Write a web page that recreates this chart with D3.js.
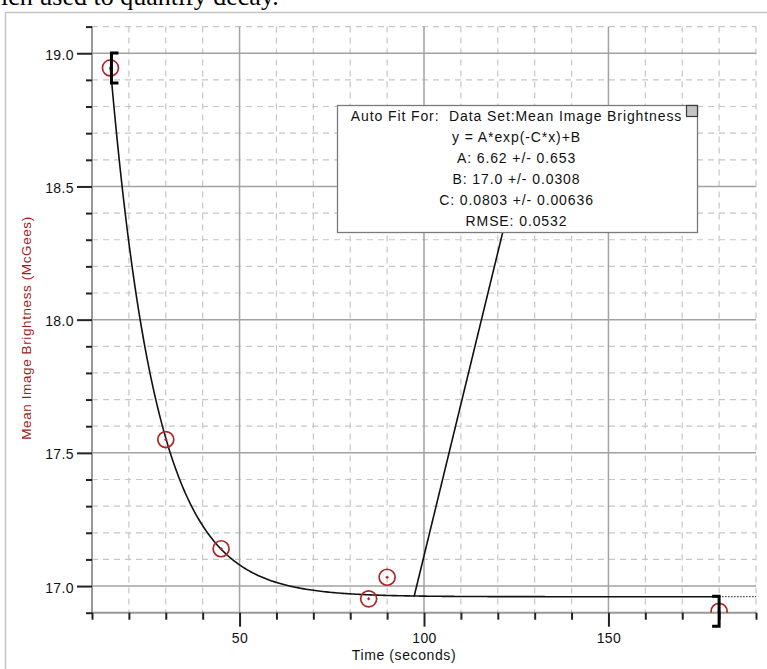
<!DOCTYPE html>
<html>
<head>
<meta charset="utf-8">
<script src="https://cdn.jsdelivr.net/npm/d3@7"></script>
<style>
body { margin: 0; background: #fff; }
svg { display: block; font-family: "Liberation Sans", Arial, sans-serif; }
</style>
</head>
<body>
<div id="chart"></div>
<script>
// measured points (time in s, brightness in McGees)
var TIMES = [15, 30, 45, 85, 90, 180];
var BRIGHTNESS = [18.945, 17.55, 17.14, 16.952, 17.033, 16.905];

// fit parameters, B is shown rounded to 17.0 in the box
var FIT_A = 6.62;
var FIT_B = 16.96;
var FIT_C = 0.0803;
var FIT_RANGE = [15, 180];

// stray segment that runs up from the curve and disappears under the box
var SPIKE_X = [97.3, 127];
var SPIKE_Y = [16.96, 18.65];

var FIT_TEXT = [
  "Auto Fit For:  Data Set:Mean Image Brightness",
  "y = A*exp(-C*x)+B",
  "A: 6.62 +/- 0.653",
  "B: 17.0 +/- 0.0308",
  "C: 0.0803 +/- 0.00636",
  "RMSE: 0.0532"
];

var X_DOMAIN = [10, 190];
var Y_DOMAIN = [16.9, 19.1];
var X_LABELS = [50, 100, 150];
var Y_LABELS = [17.0, 17.5, 18.0, 18.5, 19.0];
var X_MINOR = [10, 20, 30, 40, 60, 70, 80, 90, 110, 120, 130, 140, 160, 170, 180, 190];
var Y_MINOR = [16.9, 17.1, 17.2, 17.3, 17.4, 17.6, 17.7, 17.8, 17.9, 18.1, 18.2, 18.3, 18.4, 18.6, 18.7, 18.8, 18.9, 19.1];

var W = 767, H = 669;
var LEFT = 92, RIGHT = 756, TOP = 26.6, BOTTOM = 612.7;
var RED = "#b02626";

var svg = d3.select("#chart").append("svg")
  .attr("width", W)
  .attr("height", H);

// bit of the document text above the figure, cut off at the top
svg.append("text")
  .attr("x", 1)
  .attr("y", 5)
  .style("font-family", "'Liberation Serif', 'Times New Roman', serif")
  .style("font-size", "26px")
  .attr("fill", "#000")
  .text("ich used to quantify decay.");

// frame of the figure
svg.append("path")
  .attr("d", "M5.5," + H + "V12.5H" + W)
  .attr("fill", "none")
  .attr("stroke", "#c4c4c4")
  .attr("stroke-width", 1.5);

var x = d3.scaleLinear().domain(X_DOMAIN).range([LEFT, RIGHT]);
var y = d3.scaleLinear().domain(Y_DOMAIN).range([BOTTOM, TOP]);

svg.append("clipPath").attr("id", "plotclip")
  .append("rect")
  .attr("x", LEFT).attr("y", TOP)
  .attr("width", RIGHT - LEFT).attr("height", BOTTOM - TOP);

// minor grid, dashed
var grid = svg.append("g");
grid.selectAll(".vminor").data(X_MINOR.filter(function(d){ return d > X_DOMAIN[0]; }))
  .enter().append("line")
  .attr("x1", function(d){ return x(d); }).attr("x2", function(d){ return x(d); })
  .attr("y1", TOP).attr("y2", BOTTOM)
  .attr("stroke", "#c6c6c6").attr("stroke-width", 1.2)
  .attr("stroke-dasharray", "6,5");
grid.selectAll(".hminor").data(Y_MINOR.filter(function(d){ return d > Y_DOMAIN[0]; }))
  .enter().append("line")
  .attr("x1", LEFT).attr("x2", RIGHT)
  .attr("y1", function(d){ return y(d); }).attr("y2", function(d){ return y(d); })
  .attr("stroke", "#c6c6c6").attr("stroke-width", 1.2)
  .attr("stroke-dasharray", "6,5");

// major grid, solid
grid.selectAll(".vmajor").data(X_LABELS)
  .enter().append("line")
  .attr("x1", function(d){ return x(d); }).attr("x2", function(d){ return x(d); })
  .attr("y1", TOP).attr("y2", BOTTOM)
  .attr("stroke", "#a2a2a2").attr("stroke-width", 1.5);
grid.selectAll(".hmajor").data(Y_LABELS)
  .enter().append("line")
  .attr("x1", LEFT).attr("x2", RIGHT)
  .attr("y1", function(d){ return y(d); }).attr("y2", function(d){ return y(d); })
  .attr("stroke", "#a2a2a2").attr("stroke-width", 1.5);

// axis lines
svg.append("line")
  .attr("x1", LEFT).attr("x2", LEFT).attr("y1", TOP).attr("y2", BOTTOM)
  .attr("stroke", "#999").attr("stroke-width", 2);
svg.append("line")
  .attr("x1", LEFT).attr("x2", RIGHT).attr("y1", BOTTOM).attr("y2", BOTTOM)
  .attr("stroke", "#999").attr("stroke-width", 2);

// ticks and labels
function styleAxis(g) {
  g.select(".domain").remove();
  g.selectAll("line").attr("stroke", "#222").attr("stroke-width", 2);
  g.selectAll("text")
    .attr("fill", "#111")
    .style("font-size", "14px")
    .style("letter-spacing", "0.4px");
}

svg.append("g")
  .attr("transform", "translate(" + LEFT + ",0)")
  .call(d3.axisLeft(y).tickValues(Y_MINOR).tickSize(6).tickFormat(""))
  .call(styleAxis);
svg.append("g")
  .attr("transform", "translate(" + LEFT + ",0)")
  .call(d3.axisLeft(y).tickValues(Y_LABELS).tickSize(15).tickPadding(3).tickFormat(d3.format(".1f")))
  .call(styleAxis)
  .selectAll("text").attr("dy", "0.43em");

svg.append("g")
  .attr("transform", "translate(0," + BOTTOM + ")")
  .call(d3.axisBottom(x).tickValues(X_MINOR).tickSize(7).tickFormat(""))
  .call(styleAxis);
svg.append("g")
  .attr("transform", "translate(0," + BOTTOM + ")")
  .call(d3.axisBottom(x).tickValues(X_LABELS).tickSize(14).tickPadding(6).tickFormat(d3.format("d")))
  .call(styleAxis);

// axis titles
svg.append("text")
  .attr("x", 404)
  .attr("y", 660)
  .attr("text-anchor", "middle")
  .attr("fill", "#111")
  .style("font-size", "14px")
  .style("letter-spacing", "0.6px")
  .text("Time (seconds)");

svg.append("text")
  .attr("transform", "translate(31,328) rotate(-90)")
  .attr("text-anchor", "middle")
  .attr("fill", "#9e1c1c")
  .style("font-size", "13.5px")
  .style("letter-spacing", "0.6px")
  .text("Mean Image Brightness (McGees)");

// fit curve over the fitted range
var fitFn = function(t) { return FIT_A * Math.exp(-FIT_C * t) + FIT_B; };
var fitPts = d3.range(FIT_RANGE[0], FIT_RANGE[1] + 0.01, 0.5).map(function(t){ return [t, fitFn(t)]; });
var line = d3.line()
  .x(function(d){ return x(d[0]); })
  .y(function(d){ return y(d[1]); });

var plot = svg.append("g").attr("clip-path", "url(#plotclip)");

plot.append("path")
  .datum(fitPts)
  .attr("d", line)
  .attr("fill", "none")
  .attr("stroke", "#111")
  .attr("stroke-width", 1.6);

plot.append("path")
  .datum(SPIKE_X.map(function(d, i){ return [d, SPIKE_Y[i]]; }))
  .attr("d", line)
  .attr("fill", "none")
  .attr("stroke", "#111")
  .attr("stroke-width", 1.6);

// extrapolated part of the fit, dotted
plot.append("path")
  .datum([[FIT_RANGE[1], fitFn(FIT_RANGE[1])], [X_DOMAIN[1], fitFn(X_DOMAIN[1])]])
  .attr("d", line)
  .attr("fill", "none")
  .attr("stroke", "#444")
  .attr("stroke-width", 1.2)
  .attr("stroke-dasharray", "1.5,1.5");

// data points
var pts = plot.selectAll(".pt").data(TIMES)
  .enter().append("g")
  .attr("transform", function(d, i){ return "translate(" + x(d) + "," + y(BRIGHTNESS[i]) + ")"; });
pts.append("circle")
  .attr("r", 8)
  .attr("fill", "none")
  .attr("stroke", RED)
  .attr("stroke-width", 1.7);
pts.append("path")
  .attr("d", "M-1.5,0H1.5M0,-1.5V1.5")
  .attr("stroke", RED)
  .attr("stroke-width", 1.3);

// fit range brackets, centred on the first and last points of the range
var iStart = TIMES.indexOf(FIT_RANGE[0]);
var iEnd = TIMES.indexOf(FIT_RANGE[1]);
var bx0 = x(FIT_RANGE[0]) + 1, by0 = y(BRIGHTNESS[iStart]);
var bx1 = x(FIT_RANGE[1]), by1 = y(BRIGHTNESS[iEnd]);
svg.append("path")
  .attr("d", "M" + (bx0 + 7) + "," + (by0 - 15) + "H" + bx0 + "V" + (by0 + 15) + "H" + (bx0 + 7))
  .attr("fill", "none").attr("stroke", "#000").attr("stroke-width", 3);
svg.append("path")
  .attr("d", "M" + (bx1 - 7) + "," + (by1 - 15) + "H" + bx1 + "V" + (by1 + 15) + "H" + (bx1 - 7))
  .attr("fill", "none").attr("stroke", "#000").attr("stroke-width", 3);

// fit info box
var box = svg.append("g").attr("transform", "translate(337.5,105.5)");
box.append("rect")
  .attr("width", 360).attr("height", 127)
  .attr("fill", "#fff")
  .attr("stroke", "#7a7a7a")
  .attr("stroke-width", 1.3);
box.append("rect")
  .attr("x", 349).attr("y", 0)
  .attr("width", 11).attr("height", 11)
  .attr("fill", "#c4c4c4")
  .attr("stroke", "#3a3a3a")
  .attr("stroke-width", 1.2);
box.selectAll(".ln").data(FIT_TEXT)
  .enter().append("text")
  .attr("x", 179)
  .attr("y", function(d, i){ return 15 + i * 21; })
  .attr("text-anchor", "middle")
  .attr("fill", "#111")
  .style("white-space", "pre")
  .style("font-size", "14px")
  .style("letter-spacing", "0.9px")
  .text(function(d){ return d; });
</script>
</body>
</html>
